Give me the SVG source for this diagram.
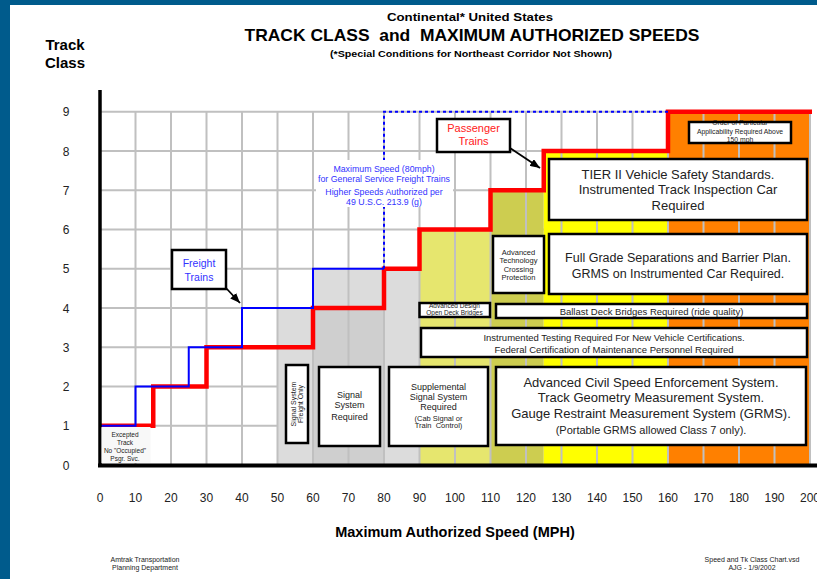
<svg xmlns="http://www.w3.org/2000/svg" width="817" height="579" viewBox="0 0 817 579">
<defs>
<marker id="arr" viewBox="0 0 10 8" refX="10" refY="4" markerWidth="10" markerHeight="8" markerUnits="userSpaceOnUse" orient="auto"><path d="M0,0 L10,4 L0,8 z" fill="#000"/></marker>
</defs>
<style>
text{font-family:"Liberation Sans",Arial,sans-serif;fill:#222;text-anchor:middle}
.b{font-weight:bold;fill:#000}
.box{fill:#fff;stroke:#000;stroke-width:2.5}
.hg{stroke:#c0c0c0;stroke-width:2;fill:none}
.t13{font-size:13px}
.t12{font-size:12.5px}
.t9{font-size:9.5px}
.t7{font-size:7.5px}
.t6{font-size:6.5px}
.blue{fill:#3333ff}
.pre{white-space:pre}
</style>
<rect x="0" y="0" width="817" height="579" fill="#fff"/>
<rect x="0" y="0" width="817" height="5" fill="#005b8c"/>
<rect x="0" y="0" width="10" height="579" fill="#005b8c"/>

<g id="titles">
<text class="b" x="470" y="21" font-size="11.5" textLength="166" lengthAdjust="spacingAndGlyphs">Continental* United States</text>
<text class="b pre" x="472" y="41" font-size="17" textLength="455" lengthAdjust="spacingAndGlyphs">TRACK CLASS  and  MAXIMUM AUTHORIZED SPEEDS</text>
<text class="b" x="471" y="57" font-size="9" textLength="282" lengthAdjust="spacingAndGlyphs">(*Special Conditions for Northeast Corridor Not Shown)</text>
<text class="b" x="65" y="50" font-size="15">Track</text>
<text class="b" x="65" y="68" font-size="15">Class</text>
<text class="b" x="455" y="537" font-size="14.5">Maximum Authorized Speed (MPH)</text>
<text x="145" y="562" font-size="7">Amtrak Transportation</text>
<text x="145" y="570" font-size="7">Planning Department</text>
<text x="752" y="562" font-size="7">Speed and Tk Class Chart.vsd</text>
<text x="752" y="570" font-size="7">AJG - 1/9/2002</text>
</g>

<g id="grid-horizontal" class="hg">
<path d="M100,425.75H810M100,386.5H810M100,347.25H810M100,308H810M100,268.75H810M100,229.5H810M100,190.25H810M100,151H810M100,111.75H810"/>
</g>

<g id="regions">
<rect x="277.5" y="308" width="35.5" height="157" fill="#dcdcdc"/>
<rect x="313" y="268.75" width="71" height="39.25" fill="#dcdcdc"/>
<rect x="313" y="308" width="71" height="157" fill="#cfcfcf"/>
<rect x="384" y="268.75" width="35.5" height="196.25" fill="#dcdcdc"/>
<rect x="419.5" y="229.5" width="71" height="235.5" fill="#e6e66e"/>
<rect x="490.5" y="190.25" width="53.25" height="274.75" fill="#cdcd50"/>
<rect x="543.75" y="151" width="124.25" height="314" fill="#ffff00"/>
<rect x="668" y="111.75" width="142" height="353.25" fill="#ff8000"/>
</g>

<g id="grid-vertical" class="hg">
<path d="M135.5,111.75V465M171,111.75V465M206.5,111.75V465M242,111.75V465M277.5,111.75V465M313,111.75V465M348.5,111.75V465M384,111.75V465M419.5,111.75V465M455,111.75V465M490.5,111.75V465M526,111.75V465M561.5,111.75V465M597,111.75V465M632.5,111.75V465M668,111.75V465M703.5,111.75V465M739,111.75V465M774.5,111.75V465M810,111.75V465"/>
</g>

<g id="y-labels" font-size="12">
<text x="66" y="469.5" font-size="12">0</text>
<text x="66" y="430.25" font-size="12">1</text>
<text x="66" y="391" font-size="12">2</text>
<text x="66" y="351.75" font-size="12">3</text>
<text x="66" y="312.5" font-size="12">4</text>
<text x="66" y="273.25" font-size="12">5</text>
<text x="66" y="234" font-size="12">6</text>
<text x="66" y="194.75" font-size="12">7</text>
<text x="66" y="155.5" font-size="12">8</text>
<text x="66" y="116.25" font-size="12">9</text>
</g>

<g id="x-labels">
<text x="100" y="502" font-size="12">0</text>
<text x="135.5" y="502" font-size="12">10</text>
<text x="171" y="502" font-size="12">20</text>
<text x="206.5" y="502" font-size="12">30</text>
<text x="242" y="502" font-size="12">40</text>
<text x="277.5" y="502" font-size="12">50</text>
<text x="313" y="502" font-size="12">60</text>
<text x="348.5" y="502" font-size="12">70</text>
<text x="384" y="502" font-size="12">80</text>
<text x="419.5" y="502" font-size="12">90</text>
<text x="455" y="502" font-size="12">100</text>
<text x="490.5" y="502" font-size="12">110</text>
<text x="526" y="502" font-size="12">120</text>
<text x="561.5" y="502" font-size="12">130</text>
<text x="597" y="502" font-size="12">140</text>
<text x="632.5" y="502" font-size="12">150</text>
<text x="668" y="502" font-size="12">160</text>
<text x="703.5" y="502" font-size="12">170</text>
<text x="739" y="502" font-size="12">180</text>
<text x="774.5" y="502" font-size="12">190</text>
<text x="810" y="502" font-size="12">200</text>
</g>

<g id="speed-lines" fill="none">
<path d="M100,425.75H153.25V386.5H206.5V347.25H313V308H384V268.75H419.5V229.5H490.5V190.25H543.75V151H668V111.75H812" stroke="#ff0000" stroke-width="4.5"/>
<path d="M100,425.75H135.5V386.5H188.75V347.25H242V308H313V268.75H384" stroke="#0000ff" stroke-width="2"/>
<path d="M384,268.75V111.75H668" stroke="#0000ff" stroke-width="2" stroke-dasharray="3,3"/>
</g>

<g id="axes" stroke="#000" fill="none">
<path d="M100,90V467" stroke-width="3.5"/>
<path d="M98,465.5H817" stroke-width="4"/>
</g>

<g id="note-80mph">
<rect x="316" y="160" width="137" height="47" fill="#fff"/>
<text class="blue" x="384" y="172" font-size="8.8">Maximum Speed (80mph)</text>
<text class="blue" x="384" y="182" font-size="8.8">for General Service Freight Trains</text>
<text class="blue" x="384" y="195" font-size="8.8">Higher Speeds Authorized per</text>
<text class="blue" x="384" y="205" font-size="8.8">49 U.S.C. 213.9 (g)</text>
</g>

<g id="excepted">
<rect x="101.5" y="427" width="49" height="36" fill="#f8f8f8"/>
<text class="t6" x="125" y="436.5">Excepted</text>
<text class="t6" x="125" y="444.5">Track</text>
<text class="t6" x="125" y="452.5">No "Occupied"</text>
<text class="t6" x="125" y="460.5">Psgr. Svc.</text>
</g>

<g id="freight-trains">
<rect class="box" x="172" y="250" width="54" height="39"/>
<text class="blue" x="199" y="266.5" font-size="10.5">Freight</text>
<text class="blue" x="199" y="280.5" font-size="10.5">Trains</text>
</g>

<g id="passenger-trains">
<rect class="box" x="437" y="119" width="73" height="33"/>
<text x="473.5" y="132" font-size="11" fill="#ff2020" style="fill:#ff2020">Passenger</text>
<text x="473.5" y="144.5" font-size="11" style="fill:#ff2020">Trains</text>
</g>

<g id="order-box">
<rect x="689" y="122" width="102" height="21" fill="#fff"/>
<text x="740" y="125" font-size="6.8">Order of Particular</text>
<text x="740" y="134" font-size="6.8">Applicability Required Above</text>
<text x="740" y="141.5" font-size="6.8">150 mph</text>
<rect x="689" y="122" width="102" height="21" fill="none" stroke="#000" stroke-width="2.5"/>
</g>

<g id="tier2">
<rect class="box" x="549" y="159" width="258" height="61"/>
<text class="t13" x="678" y="178.5">TIER II Vehicle Safety Standards.</text>
<text class="t13" x="678" y="193.5">Instrumented Track Inspection Car</text>
<text class="t13" x="678" y="209.5">Required</text>
</g>

<g id="grade-separation">
<rect class="box" x="549" y="234" width="258" height="60"/>
<text class="t12" x="678" y="261.5">Full Grade Separations and Barrier Plan.</text>
<text class="t12" x="678" y="277.5">GRMS on Instrumented Car Required.</text>
</g>

<g id="crossing-protection">
<rect class="box" x="493" y="236" width="51" height="57"/>
<text class="t7" x="518.5" y="254.5">Advanced</text>
<text class="t7" x="518.5" y="262.5">Technology</text>
<text class="t7" x="518.5" y="271.5">Crossing</text>
<text class="t7" x="518.5" y="279.5">Protection</text>
</g>

<g id="open-deck">
<rect x="419.5" y="303" width="70.5" height="14" fill="#fff"/>
<text class="t6" x="454.5" y="307.5">Advanced Design</text>
<text class="t6" x="454.5" y="315">Open Deck Bridges</text>
<rect x="419.5" y="303" width="70.5" height="14" fill="none" stroke="#000" stroke-width="2.5"/>
</g>

<g id="ballast">
<rect class="box" x="496" y="304" width="311" height="14"/>
<text class="t9" x="651.5" y="314.5">Ballast Deck Bridges Required (ride quality)</text>
</g>

<g id="instrumented-testing">
<rect class="box" x="421" y="328" width="386" height="29"/>
<text class="t9" x="614" y="340.5">Instrumented Testing Required For New Vehicle Certifications.</text>
<text class="t9" x="614" y="352.5">Federal Certification of Maintenance Personnel Required</text>
</g>

<g id="signal-freight-only">
<rect class="box" x="286" y="365" width="22" height="78"/>
<g transform="translate(297,404) rotate(-90)">
<text x="0" y="-1" font-size="7">Signal System</text>
<text x="0" y="6" font-size="7">Freight Only</text>
</g>
</g>

<g id="signal-required">
<rect class="box" x="319" y="367" width="61" height="79"/>
<text x="349.5" y="398" font-size="9">Signal</text>
<text x="349.5" y="408" font-size="9">System</text>
<text x="349.5" y="420" font-size="9">Required</text>
</g>

<g id="supplemental-signal">
<rect class="box" x="389" y="367" width="99" height="79"/>
<text x="438.5" y="390" font-size="9">Supplemental</text>
<text x="438.5" y="400" font-size="9">Signal System</text>
<text x="438.5" y="410" font-size="9">Required</text>
<text x="438.5" y="420.5" font-size="7.5">(Cab Signal or</text>
<text class="pre" x="438.5" y="428" font-size="7.5">Train  Control)</text>
</g>

<g id="civil-speed">
<rect class="box" x="496" y="367" width="310" height="78"/>
<text class="t13" x="651" y="386.5">Advanced Civil Speed Enforcement System.</text>
<text class="t13" x="651" y="401.5">Track Geometry Measurement System.</text>
<text class="t13" x="651" y="417.5">Gauge Restraint Measurement System (GRMS).</text>
<text x="651" y="433.5" font-size="11">(Portable GRMS allowed Class 7 only).</text>
</g>

<g id="connectors" stroke="#000" stroke-width="1.8" fill="none">
<path d="M226,288L240,303" marker-end="url(#arr)"/>
<path d="M510,148L540,168" marker-end="url(#arr)"/>
</g>
</svg>
